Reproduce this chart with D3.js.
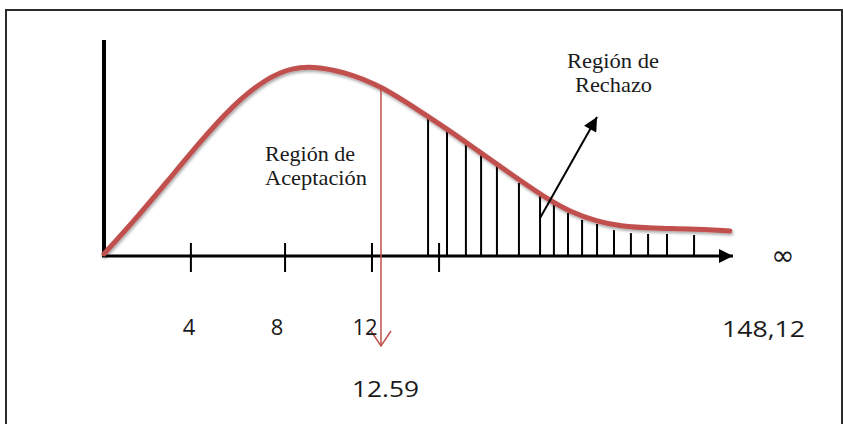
<!DOCTYPE html>
<html>
<head>
<meta charset="utf-8">
<script src="https://cdn.jsdelivr.net/npm/d3@7"></script>
<style>
  html, body { margin: 0; padding: 0; background: #fff; }
  svg { display: block; }
</style>
</head>
<body>
<div id="chart"></div>
<script>
// curve (x in chi-square units, y as share of the axis height)
const curveX = [0, 1.32, 2.86, 4.36, 5.86, 7.41, 8.59, 9.5, 10.86, 12.55, 14.36, 15.59, 17.09, 18.14, 18.91, 20.14, 21.18, 22.41, 23.45, 24.95, 26.5, 28.45];
const curveY = [0.01, 0.157, 0.343, 0.528, 0.699, 0.826, 0.872, 0.878, 0.855, 0.79, 0.67, 0.588, 0.48, 0.405, 0.35, 0.265, 0.205, 0.16, 0.138, 0.128, 0.126, 0.116];

// hatch lines of the rejection region
const hatchX = [14.73, 15.59, 16.45, 17.14, 17.86, 18.86, 19.82, 20.45, 21.09, 21.73, 22.41, 23.18, 23.95, 24.73, 25.59, 26.82];
const hatchY = [0.644, 0.593, 0.523, 0.468, 0.421, 0.338, 0.287, 0.245, 0.199, 0.167, 0.148, 0.12, 0.106, 0.102, 0.102, 0.097];

// tick marks on the axis and their labels
const tickMarks = [3.95, 8.23, 12.18, 15.23];
const tickValues = [4, 8, 12];
const tickLabels = ["4", "8", "12"];
const criticalValue = 12.59;
const criticalLabel = "12.59";
const statLabel = "148,12";

const width = 843;
const height = 424;

const svg = d3.select("#chart").append("svg")
  .attr("width", width)
  .attr("height", height);

//--------------------------------------------------------------------------------------Scales
let x = d3.scaleLinear()
  .domain([0, 28.59])
  .range([104, 733]);

let y = d3.scaleLinear()
  .domain([0, 1])
  .range([256, 40]);

//--------------------------------------------------------------------------------------defs
const defs = svg.append("defs");

defs.append("marker")
  .attr("id", "headBlack")
  .attr("viewBox", "0 0 10 10")
  .attr("refX", 10).attr("refY", 5)
  .attr("markerUnits", "userSpaceOnUse")
  .attr("markerWidth", 17).attr("markerHeight", 14)
  .attr("orient", "auto")
  .append("path")
  .attr("d", "M0,0 L10,5 L0,10 Z")
  .attr("fill", "#000");

defs.append("marker")
  .attr("id", "headPointer")
  .attr("viewBox", "0 0 10 10")
  .attr("refX", 10).attr("refY", 5)
  .attr("markerUnits", "userSpaceOnUse")
  .attr("markerWidth", 18).attr("markerHeight", 14)
  .attr("orient", "auto")
  .append("path")
  .attr("d", "M0,0 L10,5 L0,10 Z")
  .attr("fill", "#000");

const shadow = defs.append("filter")
  .attr("id", "shadow")
  .attr("x", "-5%").attr("y", "-5%")
  .attr("width", "110%").attr("height", "120%");
shadow.append("feDropShadow")
  .attr("dx", 1).attr("dy", 2)
  .attr("stdDeviation", 1.5)
  .attr("flood-color", "#000")
  .attr("flood-opacity", 0.35);

//--------------------------------------------------------------------------------------frame
svg.append("path")
  .attr("d", "M6," + height + " L6,10 L842,10 L842," + height)
  .attr("fill", "none")
  .attr("stroke", "#2b2b2b")
  .attr("stroke-width", 2);

//--------------------------------------------------------------------------------------hatch
svg.selectAll("line.hatch")
  .data(hatchX)
  .enter().append("line")
  .attr("class", "hatch")
  .attr("x1", d => x(d))
  .attr("x2", d => x(d))
  .attr("y1", y(0))
  .attr("y2", (d, i) => y(hatchY[i]))
  .attr("stroke", "#000")
  .attr("stroke-width", 2);

//--------------------------------------------------------------------------------------axes
svg.append("line") // y axis
  .attr("x1", x(0)).attr("x2", x(0))
  .attr("y1", y(0) + 1).attr("y2", y(1))
  .attr("stroke", "#000")
  .attr("stroke-width", 4);

svg.append("line") // x axis with arrow
  .attr("x1", x(0) - 2).attr("x2", x.range()[1])
  .attr("y1", y(0)).attr("y2", y(0))
  .attr("stroke", "#000")
  .attr("stroke-width", 3)
  .attr("marker-end", "url(#headBlack)");

svg.selectAll("line.tick")
  .data(tickMarks)
  .enter().append("line")
  .attr("class", "tick")
  .attr("x1", d => x(d)).attr("x2", d => x(d))
  .attr("y1", y(0) - 13).attr("y2", y(0) + 16)
  .attr("stroke", "#000")
  .attr("stroke-width", 2);

//--------------------------------------------------------------------------------------curve
const line = d3.line()
  .x(d => x(d))
  .y((d, i) => y(curveY[i]))
  .curve(d3.curveBasis);

svg.append("path")
  .attr("d", line(curveX))
  .attr("fill", "none")
  .attr("stroke", "#c0504d")
  .attr("stroke-width", 5)
  .attr("stroke-linecap", "round")
  .attr("stroke-linejoin", "round")
  .attr("filter", "url(#shadow)");

//--------------------------------------------------------------------------------------critical value
const xc = x(criticalValue);
svg.append("line")
  .attr("x1", xc).attr("x2", xc)
  .attr("y1", 85).attr("y2", 346)
  .attr("stroke", "#c0504d")
  .attr("stroke-width", 1.5);

svg.append("path")
  .attr("d", "M" + (xc - 10) + ",331 L" + xc + ",346 L" + (xc + 10) + ",331")
  .attr("fill", "none")
  .attr("stroke", "#c0504d")
  .attr("stroke-width", 1.5);

//--------------------------------------------------------------------------------------pointer arrow
svg.append("line")
  .attr("x1", x(19.82)).attr("y1", y(0.176))
  .attr("x2", x(22.41)).attr("y2", y(0.644))
  .attr("stroke", "#000")
  .attr("stroke-width", 2)
  .attr("marker-end", "url(#headPointer)");

//--------------------------------------------------------------------------------------text
const serif = "'Liberation Serif', 'Times New Roman', serif";
const sans = "'Open Sans', 'Liberation Sans', sans-serif";

let addText = (txt, px, py, opts) => {
  let t = svg.append("text")
    .attr("x", px)
    .attr("y", py)
    .attr("font-family", opts.family)
    .attr("font-size", opts.size)
    .attr("fill", "#1a1a1a")
    .attr("text-anchor", opts.anchor || "start")
    .text(txt);
  if (opts.len) {
    t.attr("textLength", opts.len).attr("lengthAdjust", "spacingAndGlyphs");
  }
  return t;
};

addText("Región de", 265, 161, { family: serif, size: 21, len: 90 });
addText("Aceptación", 265, 185, { family: serif, size: 21, len: 102 });
addText("Región de", 567, 68, { family: serif, size: 21, len: 92 });
addText("Rechazo", 575, 92, { family: serif, size: 21, len: 77 });

svg.selectAll("text.tickLabel")
  .data(tickValues)
  .enter().append("text")
  .attr("class", "tickLabel")
  .attr("x", d => x(d) - 3)
  .attr("y", 335)
  .attr("text-anchor", "middle")
  .attr("font-family", sans)
  .attr("font-size", 22)
  .attr("fill", "#1a1a1a")
  .text((d, i) => tickLabels[i]);

addText(criticalLabel, xc - 29, 397, { family: sans, size: 22, len: 67 });
addText(statLabel, 722, 337, { family: sans, size: 22, len: 83 });
addText("∞", 783, 265, { family: "'DejaVu Sans', sans-serif", size: 28, anchor: "middle" });
</script>
</body>
</html>
